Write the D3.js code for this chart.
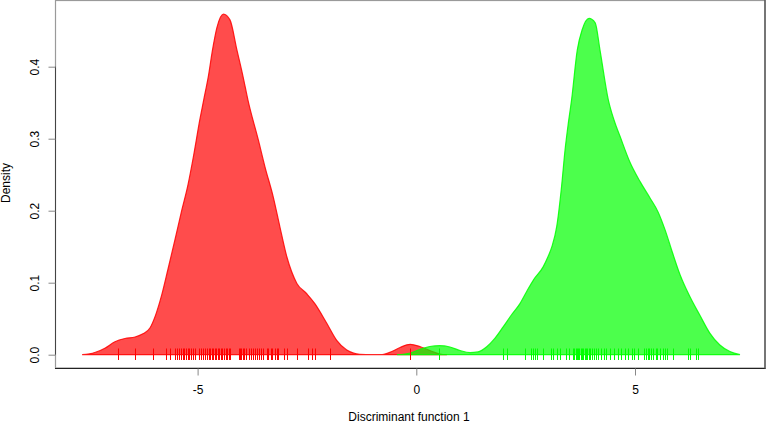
<!DOCTYPE html>
<html><head><meta charset="utf-8">
<script src="https://cdn.jsdelivr.net/npm/d3@7"></script>
<style>html,body{margin:0;padding:0;background:#fff}svg{display:block}text{font-family:"Liberation Sans",Arial,sans-serif}</style>
</head><body><svg id="c" width="767" height="423"></svg>
<script>
// Density curve of group 1 (red): x, density
const redX = [-7.64,-7.35,-7.12,-6.89,-6.66,-6.43,-6.25,-6.09,-5.96,-5.82,-5.68,-5.52,-5.36,-5.22,-5.09,-4.95,-4.86,-4.75,-4.66,-4.56,-4.41,-4.26,-4.10,-3.96,-3.85,-3.61,-3.46,-3.27,-3.12,-2.96,-2.73,-2.51,-2.32,-2.05,-1.82,-1.59,-1.29,-1.01,-0.78,-0.56,-0.37,-0.14,0.08,0.31,0.54,0.70];
const redY = [0,0.003,0.009,0.018,0.0225,0.0246,0.029,0.037,0.055,0.083,0.118,0.159,0.201,0.236,0.277,0.326,0.354,0.388,0.423,0.454,0.473,0.465,0.423,0.386,0.354,0.298,0.261,0.219,0.178,0.136,0.099,0.085,0.071,0.044,0.020,0.0065,0.0006,0,0.0003,0.0044,0.010,0.0144,0.0114,0.0058,0.001,0];
// Density curve of group 2 (green)
const greenX = [-0.44,-0.14,0.08,0.31,0.53,0.77,1.00,1.23,1.41,1.61,1.80,1.99,2.19,2.37,2.53,2.68,2.90,3.01,3.10,3.21,3.32,3.40,3.47,3.55,3.68,3.79,3.95,4.09,4.20,4.39,4.52,4.66,4.88,5.12,5.34,5.53,5.69,5.85,6.03,6.26,6.49,6.71,6.94,7.17,7.40];
const greenY = [0,0.0024,0.0072,0.0114,0.0125,0.0107,0.0058,0.0028,0.0038,0.011,0.023,0.039,0.0565,0.071,0.0885,0.104,0.122,0.136,0.150,0.178,0.233,0.284,0.319,0.354,0.423,0.451,0.467,0.461,0.423,0.354,0.326,0.303,0.268,0.240,0.218,0.198,0.173,0.143,0.111,0.080,0.054,0.030,0.0135,0.0044,0];
// Rug (individual scores)
const redRug = [-6.81,-6.43,-6.01,-5.72,-5.63,-5.51,-5.46,-5.42,-5.37,-5.34,-5.30,-5.27,-5.23,-5.19,-5.16,-5.10,-5.07,-4.96,-4.93,-4.87,-4.82,-4.78,-4.75,-4.72,-4.68,-4.64,-4.60,-4.57,-4.53,-4.50,-4.47,-4.44,-4.40,-4.36,-4.32,-4.28,-4.25,-4.05,-4.03,-4.00,-3.97,-3.94,-3.89,-3.82,-3.78,-3.73,-3.68,-3.64,-3.59,-3.54,-3.50,-3.42,-3.38,-3.33,-3.29,-3.24,-3.19,-3.16,-3.03,-2.96,-2.72,-2.47,-2.39,-2.32,-1.97,-0.14];
const greenRug = [0.53,1.99,2.08,2.49,2.62,2.66,2.71,2.75,2.90,3.07,3.13,3.21,3.29,3.42,3.48,3.58,3.61,3.64,3.67,3.70,3.73,3.76,3.79,3.82,3.85,3.88,3.91,3.94,3.97,4.02,4.06,4.11,4.16,4.22,4.28,4.34,4.43,4.51,4.60,4.67,4.77,4.85,4.92,4.97,5.08,5.21,5.25,5.29,5.33,5.37,5.42,5.47,5.51,5.57,5.63,5.69,5.74,5.88,6.22,6.26,6.40,6.43];
const xTicks = [-5, 0, 5];
const yTicks = [0.0, 0.1, 0.2, 0.3, 0.4];
const xLabel = "Discriminant function 1";
const yLabel = "Density";

const svg = d3.select("#c");
const x = d3.scaleLinear().domain([0, 5]).range([416.3, 635]);
const y = d3.scaleLinear().domain([0, 0.4]).range([354.7, 66.7]);

function area(xs, ys){
  const pts = xs.map((v,i)=>[v, ys[i]]);
  return d3.area().x(d=>x(d[0])).y0(y(0)).y1(d=>y(d[1])).curve(d3.curveMonotoneX)(pts);
}
svg.append("path").attr("d", area(redX, redY))
  .attr("fill", "rgba(255,0,0,0.7)").attr("stroke", "rgba(255,0,0,0.85)").attr("stroke-width", 1.2);
svg.append("path").attr("d", area(greenX, greenY))
  .attr("fill", "rgba(0,255,0,0.7)").attr("stroke", "rgba(0,255,0,0.85)").attr("stroke-width", 1.2);

// rugs
svg.append("g").selectAll("line").data(redRug).join("line")
  .attr("x1", d=>Math.round(x(d))+0.5).attr("x2", d=>Math.round(x(d))+0.5)
  .attr("y1", 348.5).attr("y2", 360).attr("stroke", "#ff0000").attr("stroke-width", 1);
svg.append("g").selectAll("line").data(greenRug).join("line")
  .attr("x1", d=>Math.round(x(d))+0.5).attr("x2", d=>Math.round(x(d))+0.5)
  .attr("y1", 348.5).attr("y2", 360).attr("stroke", "#00ff00").attr("stroke-width", 1);

// frame
svg.append("rect").attr("x", 55.5).attr("y", 0.5).attr("width", 709.5).attr("height", 367.5)
  .attr("fill", "none").attr("stroke", "#9a9a9a").attr("stroke-width", 1.2);
svg.append("line").attr("x1", 55).attr("x2", 765.5).attr("y1", 368.5).attr("y2", 368.5).attr("stroke", "#222").attr("stroke-width", 1.2);
svg.append("line").attr("x1", 765).attr("x2", 765).attr("y1", 0).attr("y2", 369).attr("stroke", "#444").attr("stroke-width", 1.2);

// y axis
const ya = d3.axisLeft(y).tickValues(yTicks).tickFormat(d3.format(".1f")).tickSize(7).tickPadding(0);
const gy = svg.append("g").attr("transform", "translate(55.5,0)").call(ya);
gy.select(".domain").attr("stroke", "#444").attr("d", `M0,${y(0)}V${y(0.4)}`);
gy.selectAll(".tick line").attr("stroke", "#888");
gy.selectAll(".tick text").attr("font-size", 12).attr("fill", "#000")
  .attr("text-anchor", "middle").attr("x", 0).attr("dy", 0)
  .attr("transform", "translate(-17,0) rotate(-90)");

// x axis
const xa = d3.axisBottom(x).tickValues(xTicks).tickFormat(d3.format("d")).tickSize(7).tickPadding(0);
const gx = svg.append("g").attr("transform", "translate(0,368.5)").call(xa);
gx.select(".domain").remove();
gx.selectAll(".tick line").attr("stroke", "#888");
gx.selectAll(".tick text").attr("font-size", 12).attr("fill", "#000").attr("y", 25.5).attr("dy", 0)
  .text(d => d < 0 ? "-" + Math.abs(d) : d);

svg.append("text").attr("x", 409).attr("y", 421).attr("text-anchor", "middle")
  .attr("font-size", 12).text(xLabel);
svg.append("text").attr("transform", "translate(9.5,183) rotate(-90)").attr("text-anchor", "middle")
  .attr("font-size", 12).text(yLabel);
</script></body></html>
